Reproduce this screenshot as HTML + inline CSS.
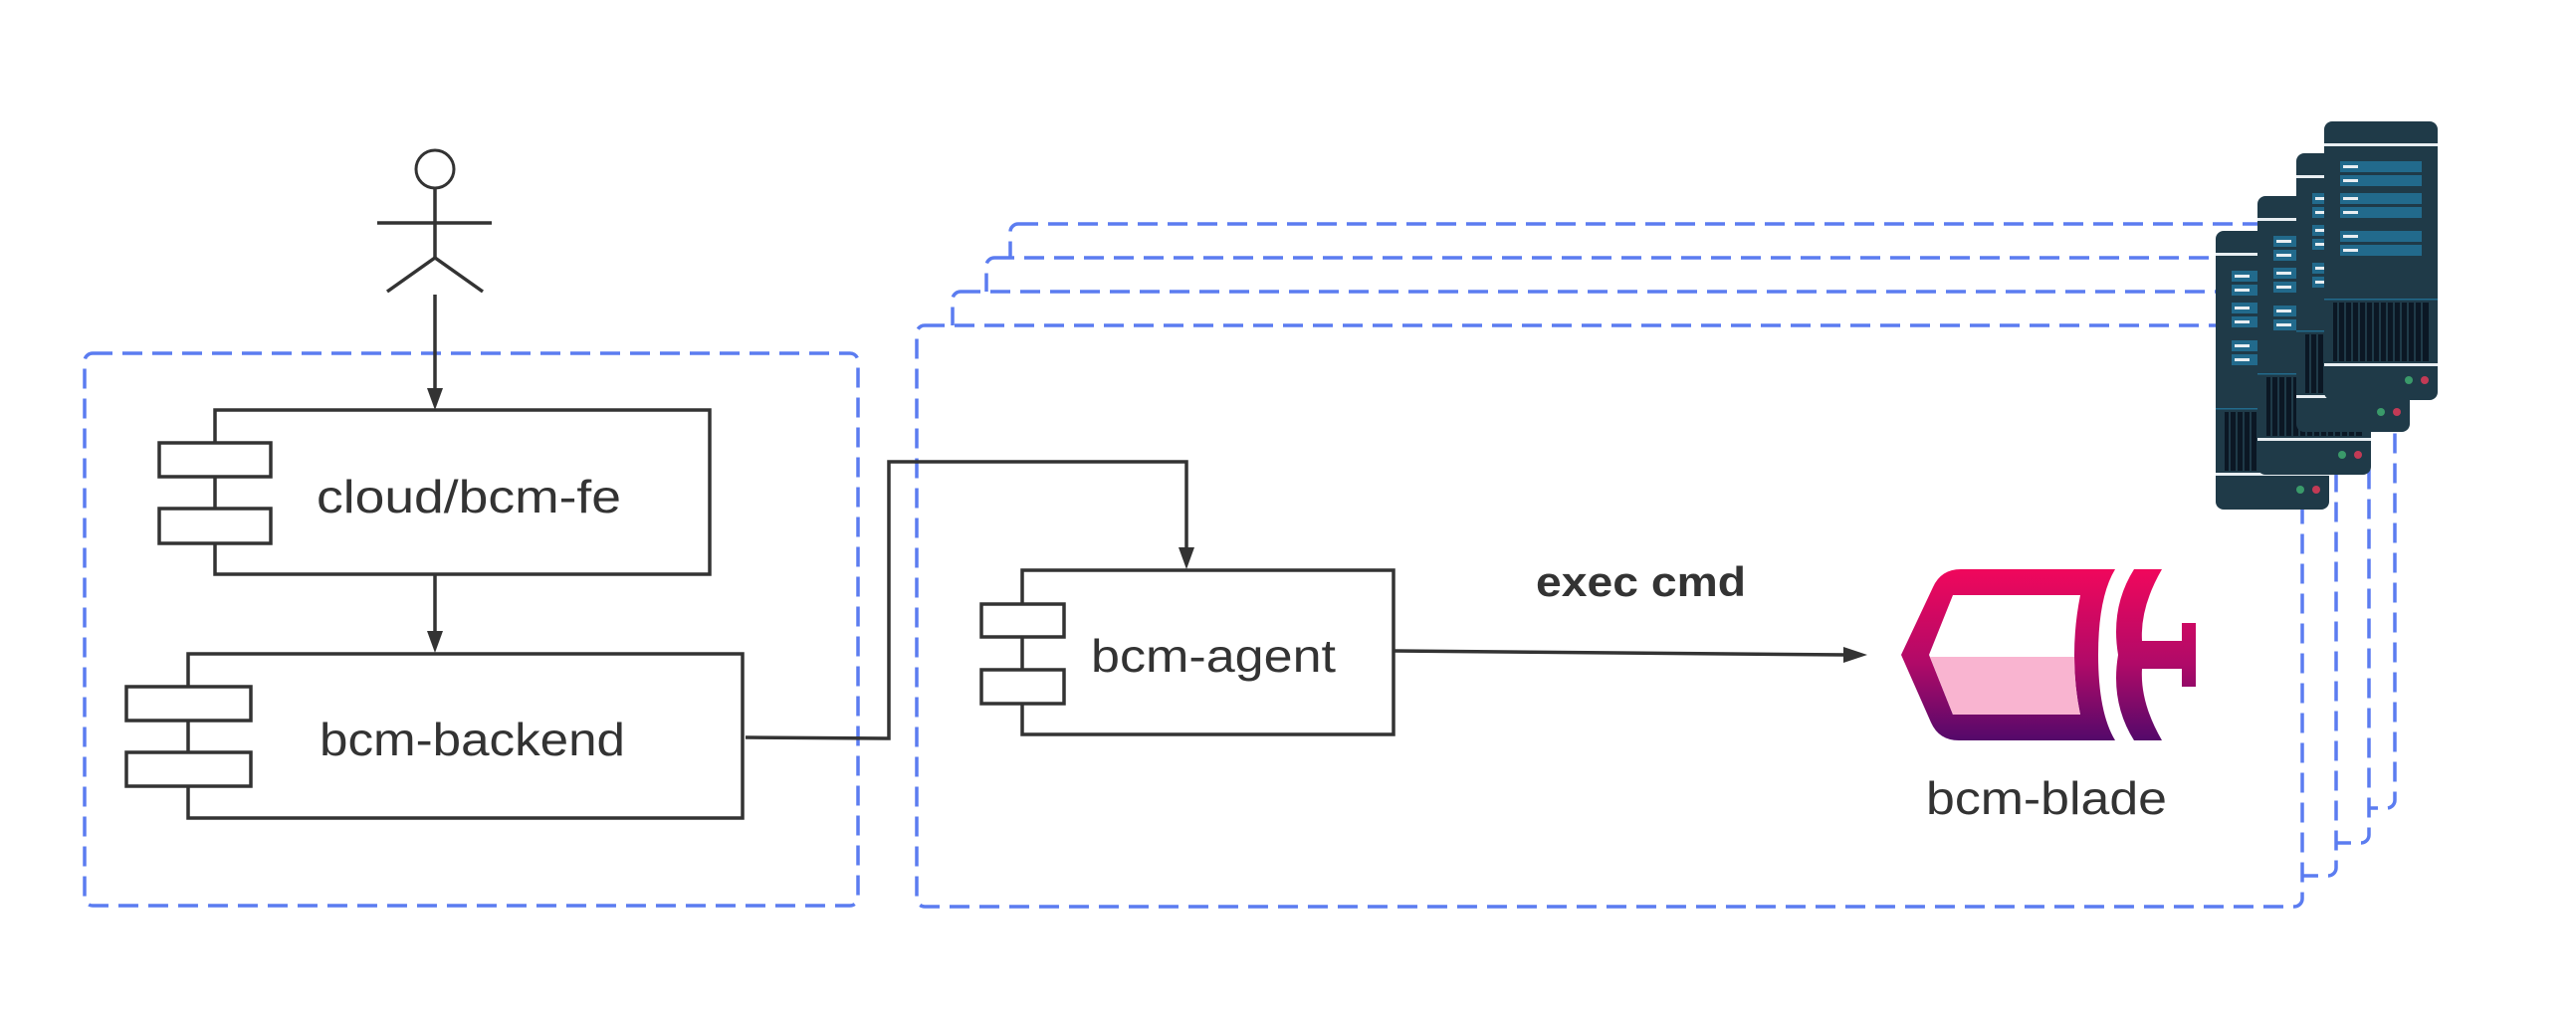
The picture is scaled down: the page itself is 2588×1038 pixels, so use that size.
<!DOCTYPE html>
<html><head><meta charset="utf-8"><style>html,body{margin:0;padding:0;background:#fff}svg{display:block}</style></head>
<body>
<svg width="2588" height="1038" viewBox="0 0 2588 1038" xmlns="http://www.w3.org/2000/svg">
<defs>
<linearGradient id="bg" x1="0" y1="0" x2="0" y2="1"><stop offset="0" stop-color="#f0075c"/><stop offset="0.55" stop-color="#b00a68"/><stop offset="1" stop-color="#54096a"/></linearGradient>
<g id="srv">
  <rect x="0" y="0" width="114" height="280" rx="8" fill="#1f3a48"/>
  <rect x="0" y="22" width="114" height="3" fill="#e8eef2"/>
  <g fill="#226a8c">
    <rect x="16" y="40" width="82" height="11"/><rect x="16" y="54" width="82" height="11"/>
    <rect x="16" y="72" width="82" height="11"/><rect x="16" y="86" width="82" height="11"/>
    <rect x="16" y="110" width="82" height="11"/><rect x="16" y="124" width="82" height="11"/>
  </g>
  <g fill="#e8eef2">
    <rect x="19" y="44" width="15" height="3"/><rect x="19" y="58" width="15" height="3"/>
    <rect x="19" y="76" width="15" height="3"/><rect x="19" y="90" width="15" height="3"/>
    <rect x="19" y="114" width="15" height="3"/><rect x="19" y="128" width="15" height="3"/>
  </g>
  <rect x="0" y="178" width="114" height="1.5" fill="#226a8c"/>
  <rect x="9" y="182" width="96" height="59" fill="#0b1724"/>
  <g fill="#1f3a48"><rect x="13" y="182" width="2" height="59"/><rect x="20" y="182" width="2" height="59"/><rect x="27" y="182" width="2" height="59"/><rect x="34" y="182" width="2" height="59"/><rect x="41" y="182" width="2" height="59"/><rect x="48" y="182" width="2" height="59"/><rect x="55" y="182" width="2" height="59"/><rect x="62" y="182" width="2" height="59"/><rect x="69" y="182" width="2" height="59"/><rect x="76" y="182" width="2" height="59"/><rect x="83" y="182" width="2" height="59"/><rect x="90" y="182" width="2" height="59"/><rect x="97" y="182" width="2" height="59"/></g>
  <rect x="0" y="243" width="114" height="3" fill="#e8eef2"/>
  <circle cx="85" cy="260" r="4" fill="#3a9a6a"/><circle cx="101" cy="260" r="4" fill="#c23a55"/>
</g>
</defs>

<g fill="#fff" stroke="#5b7cf0" stroke-width="3.5" stroke-dasharray="20 10">
  <rect x="1015" y="225" width="1391" height="587" rx="8"/>
  <rect x="991" y="259" width="1389" height="588" rx="8"/>
  <rect x="957" y="293" width="1390" height="587" rx="8"/>
  <rect x="921" y="327" width="1392" height="584" rx="8"/>
  <rect x="85" y="355" width="777" height="555" rx="8"/>
</g>

<use href="#srv" x="2226" y="232"/>
<use href="#srv" x="2268" y="197"/>
<use href="#srv" x="2307" y="154"/>
<use href="#srv" x="2335" y="122"/>

<g stroke="#333" stroke-width="3.5" fill="none">
  <circle cx="437" cy="170" r="19" stroke-width="3"/>
  <line x1="437" y1="189" x2="437" y2="259"/>
  <line x1="379" y1="224" x2="494" y2="224"/>
  <polyline points="389,293 437,259 485,293"/>
  <line x1="437" y1="296" x2="437" y2="395"/>
  <rect x="216" y="412" width="497" height="165" fill="#fff"/>
  <rect x="160" y="445" width="112" height="34" fill="#fff"/>
  <rect x="160" y="511" width="112" height="35" fill="#fff"/>
  <line x1="437" y1="577" x2="437" y2="638"/>
  <rect x="189" y="657" width="557" height="165" fill="#fff"/>
  <rect x="127" y="690" width="125" height="34" fill="#fff"/>
  <rect x="127" y="756" width="125" height="34" fill="#fff"/>
  <polyline points="749,741 893,742 893,464 1192,464 1192,553"/>
  <rect x="1027" y="573" width="373" height="165" fill="#fff"/>
  <rect x="986" y="607" width="83" height="33" fill="#fff"/>
  <rect x="986" y="673" width="83" height="34" fill="#fff"/>
  <line x1="1400" y1="654" x2="1855" y2="658"/>
</g>
<g fill="#333">
  <polygon points="429,390 445,390 437,412"/>
  <polygon points="429,634 445,634 437,656"/>
  <polygon points="1184,550 1200,550 1192,572"/>
  <polygon points="1852,650 1852,666 1876,658"/>
</g>

<path d="M1910,658 L1942,590 Q1950,572 1970,572 L2125,572 Q2108,600 2108,658 Q2108,716 2125,744 L1968,744 Q1948,744 1940,726 Z" fill="url(#bg)"/>
<path d="M1938,658 L1962,598 L2090,598 Q2084,628 2084,658 Q2084,690 2090,718 L1962,718 Z" fill="#fff"/>
<path d="M1939,660 L2084,660 Q2084,690 2090,718 L1962,718 Z" fill="#f9b4d0"/>
<path d="M2144,572 Q2120,610 2128,658 Q2120,706 2144,744 L2172,744 Q2150,706 2152,672 L2192,672 L2192,690 L2206,690 L2206,626 L2192,626 L2192,644 L2152,644 Q2150,610 2172,572 Z" fill="url(#bg)"/>

<g font-family="'Liberation Sans', sans-serif" fill="#333" font-size="46">
  <text x="318" y="515" textLength="306" lengthAdjust="spacingAndGlyphs">cloud/bcm-fe</text>
  <text x="321" y="759" textLength="307" lengthAdjust="spacingAndGlyphs">bcm-backend</text>
  <text x="1096" y="675" textLength="246" lengthAdjust="spacingAndGlyphs">bcm-agent</text>
  <text x="1935" y="818" textLength="242" lengthAdjust="spacingAndGlyphs">bcm-blade</text>
  <text x="1543" y="599" font-weight="bold" font-size="42" textLength="211" lengthAdjust="spacingAndGlyphs">exec cmd</text>
</g>
</svg>
</body></html>
